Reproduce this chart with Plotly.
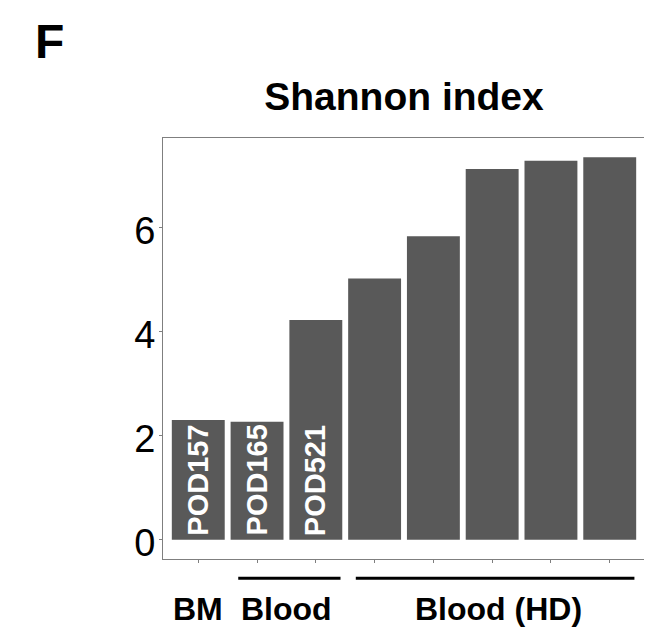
import plotly.graph_objects as go

# ---- data ----
samples = ["POD157", "POD165", "POD521", "HD1", "HD2", "HD3", "HD4", "HD5"]
shannon = [2.30, 2.27, 4.22, 5.02, 5.83, 7.12, 7.28, 7.35]
bar_labels = ["POD157", "POD165", "POD521", "", "", "", "", ""]
group_names = ["BM", "Blood", "Blood (HD)"]
group_members = [[0], [1, 2], [3, 4, 5, 6, 7]]
y_ticks = [0, 2, 4, 6]

FONT = "Liberation Sans, Arial, Helvetica, sans-serif"
BAR = "#595959"

xr = [-0.6, len(samples) - 1 + 0.6]
ymax = max(shannon)
yr = [-0.05 * ymax, ymax * 1.05]

fig = go.Figure()
fig.add_trace(go.Bar(
    x=list(range(len(samples))), y=shannon,
    marker=dict(color=BAR, line=dict(width=0)),
    width=0.9, hoverinfo="y", showlegend=False,
))

# rotated labels inside bars
for i, lab in enumerate(bar_labels):
    if lab:
        fig.add_annotation(
            x=i, y=0, xref="x", yref="y", text=f"<b>{lab}</b>",
            textangle=-90, showarrow=False, xanchor="center", yanchor="bottom",
            yshift=2, font=dict(family=FONT, size=29, color="white"),
        )

def to_paper(v):
    return (v - xr[0]) / (xr[1] - xr[0])

# group lines and labels
for name, mem in zip(group_names, group_members):
    center = (mem[0] + mem[-1]) / 2
    if len(mem) > 1:
        fig.add_shape(type="line", xref="paper", yref="paper",
                      x0=to_paper(mem[0] - 0.32), x1=to_paper(mem[-1] + 0.42),
                      y0=-0.046, y1=-0.046,
                      line=dict(color="black", width=3))
    fig.add_annotation(
        x=center + (0.1 if len(mem) > 2 else 0), y=-0.118, xref="x", yref="paper",
        text=f"<b>{name}</b>", showarrow=False, xanchor="center", yanchor="middle",
        font=dict(family=FONT, size=32, color="black"),
    )

# panel letter
fig.add_annotation(
    x=-0.27, y=1.23, xref="paper", yref="paper", text="<b>F</b>",
    showarrow=False, xanchor="left", yanchor="middle",
    font=dict(family=FONT, size=48, color="black"),
)

fig.update_layout(
    width=652, height=629,
    margin=dict(l=155, r=15, t=130, b=78),
    paper_bgcolor="white", plot_bgcolor="white",
    title=dict(text="<b>Shannon index</b>", x=0.5, xref="paper", xanchor="center",
               y=1 - 88 / 629, yref="container", yanchor="middle",
               font=dict(family=FONT, size=39, color="black")),
    bargap=0.1,
    xaxis=dict(range=xr, tickmode="array", tickvals=list(range(len(samples))),
               ticktext=samples, showticklabels=False,
               ticks="outside", ticklen=3, tickcolor="#7f7f7f", tickwidth=1,
               showline=True, mirror=True, linecolor="#7f7f7f", linewidth=1,
               showgrid=False, zeroline=False, fixedrange=True),
    yaxis=dict(range=yr, tickmode="array", tickvals=y_ticks,
               ticktext=[str(t) for t in y_ticks],
               ticks="outside", ticklen=3, tickcolor="#7f7f7f", tickwidth=1,
               tickfont=dict(family=FONT, size=38, color="black"),
               ticklabelstandoff=-4, ticklabelshift=3,
               showline=True, mirror=True, linecolor="#7f7f7f", linewidth=1,
               showgrid=False, zeroline=False, fixedrange=True),
)

fig.write_html("out.html")
